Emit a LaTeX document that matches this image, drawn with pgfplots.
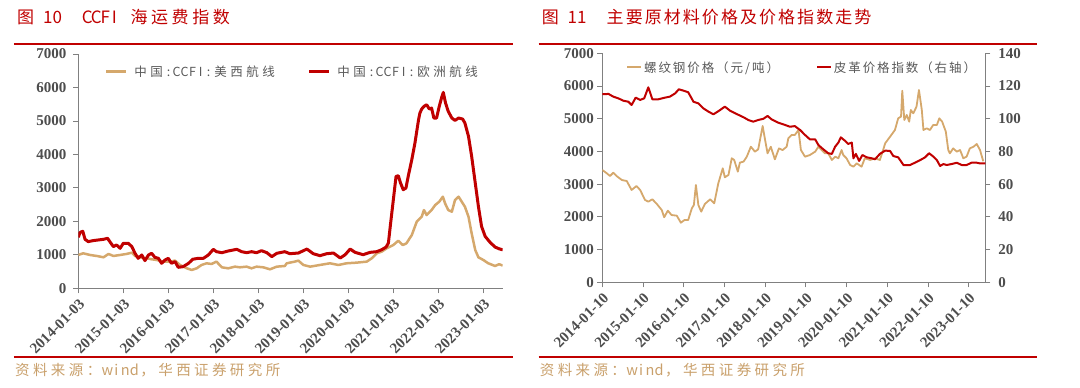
\documentclass[border=0pt]{standalone}
\usepackage{pgfplots}
\pgfplotsset{compat=1.18}
\usepackage{fontspec}
\setmainfont{Liberation Serif}
\newfontfamily\cjk{Noto Sans CJK SC}
\definecolor{cred}{HTML}{C00000}
\definecolor{ctan}{HTML}{D5A86C}
\definecolor{csrc}{HTML}{C9A06B}
\definecolor{cgray}{HTML}{4D4D4D}
\definecolor{clegend}{HTML}{595959}
\definecolor{caxis}{HTML}{808080}
\makeatletter
\newcommand\spread[2]{\@tfor\sp@c:=#2\do{\ifnum\expandafter`\sp@c>255 \makebox[#1]{\sp@c}\else\makebox[\dimexpr#1/2\relax]{\sp@c}\fi}}
\makeatother
\pgfplotsset{
  mystyle/.style={
    scale only axis,
    axis line style={caxis, line width=0.8pt},
    tick style={caxis, line width=0.8pt},
    tick align=outside, major tick length=5pt,
    xtick={2014,2015,...,2023},
    tick label style={font=\bfseries\fontsize{15}{15}\selectfont, color=cgray},
    x tick label style={rotate=45, anchor=north east},
    /pgf/number format/1000 sep={},
    /pgf/number format/assume math mode=true,
  }
}
\begin{document}
\begin{tikzpicture}[x=1pt,y=1pt]
\path[use as bounding box] (0,0) rectangle (1080,-388);
% titles
\begin{scope}[every node/.style={anchor=west, inner sep=0pt, text=cred, font=\cjk\fontsize{17}{17}\selectfont}]
\node at (17,-17.5) {图};
\node at (43,-17.5) {10};
\node at (82.6,-17.5) {\spread{18pt}{CCFI}};
\node at (128.5,-17.5) {\spread{20.6pt}{海运费指数}};
\node at (541.7,-17.5) {图};
\node at (567.5,-17.5) {11};
\node at (605.5,-17.5) {\spread{19.05pt}{主要原材料价格及价格指数走势}};
\end{scope}
\draw[cred, line width=2pt] (13.8,-44) -- (513,-44);
\draw[cred, line width=2pt] (538.5,-44) -- (1037,-44);
\draw[cred, line width=2pt] (13.8,-357) -- (513,-357);
\draw[cred, line width=2pt] (538.5,-357) -- (1037,-357);
\begin{scope}[every node/.style={anchor=west, inner sep=0pt, text=csrc, font=\cjk\fontsize{14.5}{14.5}\selectfont}]
\node at (13.3,-370) {\spread{17.9pt}{资料来源：wind，华西证券研究所}};
\node at (538,-370) {\spread{17.9pt}{资料来源：wind，华西证券研究所}};
\end{scope}

% ---------- left chart ----------
\begin{axis}[mystyle,
  at={(78.3pt,-288.3pt)}, anchor=south west,
  width=424.4pt, height=234.3pt,
  xmin=2014, xmax=2023.43, ymin=0, ymax=7000,
  ytick={0,1000,...,7000},
  y tick label style={xshift=-3.5pt},
  axis x line*=bottom, axis y line*=left,
  xticklabels={2014-01-03,2015-01-03,2016-01-03,2017-01-03,2018-01-03,2019-01-03,2020-01-03,2021-01-03,2022-01-03,2023-01-03},
  legend style={at={(0.0629,0.9244)}, anchor=west, draw=none, fill=none,
    inner sep=0pt, font=\cjk\fontsize{12.5}{12.5}\selectfont, text=clegend,
    nodes={inner sep=0pt},
    /tikz/every odd column/.append style={column sep=5.4pt},
    /tikz/every even column/.append style={column sep=31pt}},
  legend columns=2,
  legend image code/.code={\draw[#1, line cap=butt] (0pt,0pt) -- (19.6pt,0pt);},
]
\addplot[ctan, line width=2.5pt, line join=round] coordinates {
(2014.00,996)(2014.11,1046)(2014.26,996)(2014.41,966)(2014.56,926)(2014.67,1026)(2014.78,966)(2014.93,996)(2015.07,1026)(2015.19,1064)(2015.26,966)(2015.37,926)(2015.52,896)(2015.63,867)(2015.74,847)(2015.89,797)(2016.04,797)(2016.15,827)(2016.26,697)(2016.41,597)(2016.52,548)(2016.63,597)(2016.74,697)(2016.85,747)(2016.96,727)(2017.07,797)(2017.19,627)(2017.33,597)(2017.48,647)(2017.59,627)(2017.74,647)(2017.85,597)(2017.96,647)(2018.11,627)(2018.26,567)(2018.41,647)(2018.59,667)(2018.63,747)(2018.81,797)(2018.89,827)(2019.00,697)(2019.15,647)(2019.37,697)(2019.59,747)(2019.78,697)(2019.96,747)(2020.19,767)(2020.41,797)(2020.52,896)(2020.63,1044)(2020.74,1094)(2020.85,1193)(2021.00,1293)(2021.11,1422)(2021.21,1293)(2021.29,1342)(2021.41,1591)(2021.52,1990)(2021.63,2139)(2021.68,2338)(2021.74,2189)(2021.85,2338)(2021.93,2488)(2022.02,2587)(2022.10,2737)(2022.15,2537)(2022.22,2338)(2022.30,2288)(2022.37,2637)(2022.45,2737)(2022.52,2587)(2022.59,2438)(2022.67,2139)(2022.74,1641)(2022.82,1143)(2022.89,926)(2023.00,846)(2023.11,747)(2023.26,667)(2023.35,720)(2023.43,680)
};
\addlegendentry{\spread{16pt}{中国:CCFI:美西航线}}
\addplot[cred, line width=3pt, line join=round] coordinates {
(2014.00,1524)(2014.04,1672)(2014.10,1702)(2014.15,1464)(2014.22,1395)(2014.33,1425)(2014.45,1445)(2014.56,1464)(2014.65,1494)(2014.70,1395)(2014.78,1245)(2014.85,1295)(2014.93,1195)(2015.00,1345)(2015.11,1345)(2015.19,1245)(2015.26,1046)(2015.33,896)(2015.41,996)(2015.48,827)(2015.56,996)(2015.63,1046)(2015.70,926)(2015.78,896)(2015.85,747)(2015.93,847)(2016.00,896)(2016.07,747)(2016.15,797)(2016.22,627)(2016.33,647)(2016.45,747)(2016.54,867)(2016.67,896)(2016.78,896)(2016.89,996)(2017.00,1165)(2017.07,1094)(2017.19,1064)(2017.33,1114)(2017.52,1165)(2017.63,1094)(2017.74,1064)(2017.85,1094)(2017.96,1064)(2018.07,1124)(2018.19,1064)(2018.30,946)(2018.41,1046)(2018.59,1094)(2018.70,1034)(2018.89,1054)(2019.08,1173)(2019.22,1034)(2019.37,975)(2019.52,1034)(2019.67,1054)(2019.82,905)(2019.93,1004)(2020.04,1173)(2020.15,1074)(2020.33,1004)(2020.48,1074)(2020.63,1094)(2020.74,1153)(2020.84,1233)(2020.89,1352)(2020.94,1950)(2021.00,2647)(2021.06,3344)(2021.11,3364)(2021.16,3145)(2021.22,2946)(2021.28,2996)(2021.33,3344)(2021.41,3842)(2021.48,4340)(2021.56,5037)(2021.59,5236)(2021.63,5356)(2021.68,5435)(2021.74,5485)(2021.80,5356)(2021.85,5385)(2021.90,5087)(2021.96,5087)(2022.02,5435)(2022.08,5734)(2022.11,5853)(2022.16,5535)(2022.22,5286)(2022.30,5087)(2022.37,5017)(2022.45,5087)(2022.54,5057)(2022.59,4938)(2022.67,4539)(2022.74,3942)(2022.82,3145)(2022.89,2448)(2022.96,1850)(2023.04,1552)(2023.15,1372)(2023.26,1233)(2023.35,1180)(2023.43,1150)
};
\addlegendentry{\spread{16pt}{中国:CCFI:欧洲航线}}
\end{axis}

% ---------- right chart ----------
\begin{axis}[mystyle,
  at={(602.3pt,-282.3pt)}, anchor=south west,
  width=383pt, height=229pt,
  xmin=2014, xmax=2023.41, ymin=0, ymax=7000,
  ytick={0,1000,...,7000},
  axis x line*=bottom, axis y line*=left,
  xticklabels={2014-01-10,2015-01-10,2016-01-10,2017-01-10,2018-01-10,2019-01-10,2020-01-10,2021-01-10,2022-01-10,2023-01-10},
]
\addplot[ctan, line width=1.8pt, line join=round] coordinates {
(2014.00,3433)(2014.11,3332)(2014.19,3250)(2014.27,3350)(2014.35,3250)(2014.48,3127)(2014.60,3097)(2014.72,2822)(2014.84,2944)(2014.93,2822)(2015.05,2516)(2015.13,2465)(2015.23,2537)(2015.34,2394)(2015.46,2210)(2015.52,1987)(2015.61,2190)(2015.70,2057)(2015.83,2037)(2015.93,1822)(2016.02,1904)(2016.11,1904)(2016.20,2262)(2016.25,2364)(2016.30,2974)(2016.36,2364)(2016.43,2160)(2016.52,2394)(2016.65,2537)(2016.75,2414)(2016.85,3026)(2016.96,3485)(2017.01,3210)(2017.10,3281)(2017.18,3791)(2017.24,3740)(2017.33,3383)(2017.38,3659)(2017.47,3689)(2017.55,3840)(2017.65,4145)(2017.75,3994)(2017.83,4064)(2017.94,4778)(2018.00,4350)(2018.06,3942)(2018.14,4145)(2018.24,3758)(2018.34,4094)(2018.43,4043)(2018.53,4145)(2018.57,4402)(2018.65,4503)(2018.73,4503)(2018.82,4656)(2018.88,4044)(2018.98,3840)(2019.10,3891)(2019.23,3994)(2019.31,4145)(2019.39,4044)(2019.47,3942)(2019.55,3942)(2019.64,3740)(2019.72,3840)(2019.80,3791)(2019.88,4044)(2019.92,3891)(2020.00,3791)(2020.09,3586)(2020.17,3535)(2020.25,3637)(2020.37,3535)(2020.45,3791)(2020.58,3740)(2020.70,3791)(2020.82,3740)(2020.90,4044)(2020.95,4249)(2021.07,4451)(2021.19,4656)(2021.27,5013)(2021.34,5066)(2021.37,5857)(2021.42,4961)(2021.48,5115)(2021.54,4910)(2021.58,5267)(2021.64,5165)(2021.72,5369)(2021.78,5879)(2021.85,5267)(2021.89,4656)(2021.97,4707)(2022.05,4656)(2022.13,4809)(2022.22,4809)(2022.28,5013)(2022.35,4910)(2022.44,4605)(2022.50,4044)(2022.54,3942)(2022.62,4094)(2022.71,3994)(2022.79,4044)(2022.87,3791)(2022.95,3840)(2023.03,4094)(2023.12,4145)(2023.20,4227)(2023.28,4044)(2023.36,3700)
};
\end{axis}
\begin{axis}[mystyle,
  at={(602.3pt,-282.3pt)}, anchor=south west,
  width=383pt, height=229pt,
  xmin=2014, xmax=2023.41, ymin=0, ymax=140,
  ytick={0,20,...,140},
  y tick label style={xshift=4.5pt},
  axis x line=none, axis y line*=right,
  legend style={at={(0.0619,0.938)}, anchor=west, draw=none, fill=none,
    inner sep=0pt, font=\cjk\fontsize{12.5}{12.5}\selectfont, text=clegend,
    nodes={inner sep=0pt},
    /tikz/every odd column/.append style={column sep=1.5pt},
    /tikz/every even column/.append style={column sep=36pt}},
  legend columns=2,
  legend image code/.code={\draw[#1, line cap=butt] (0pt,0pt) -- (13.5pt,0pt);},
]
\addlegendimage{ctan, line width=2pt}
\addlegendentry{\spread{14.4pt}{螺纹钢价格（元/吨）}}
\addplot[cred, line width=2pt, line join=round] coordinates {
(2014.00,115.0)(2014.07,115.0)(2014.15,115.2)(2014.27,113.5)(2014.39,112.5)(2014.52,111.0)(2014.64,110.4)(2014.72,108.4)(2014.82,112.9)(2014.93,111.5)(2015.03,112.5)(2015.13,119.2)(2015.23,111.9)(2015.38,111.9)(2015.54,112.9)(2015.66,113.5)(2015.79,115.5)(2015.88,118.0)(2015.99,117.2)(2016.11,116.2)(2016.24,110.4)(2016.36,109.4)(2016.48,106.4)(2016.61,104.3)(2016.73,102.7)(2016.87,104.9)(2017.01,107.4)(2017.14,104.9)(2017.30,102.9)(2017.47,100.9)(2017.59,99.2)(2017.71,98.2)(2017.83,99.2)(2017.96,100.0)(2018.06,101.7)(2018.16,99.6)(2018.32,97.6)(2018.49,96.2)(2018.61,95.1)(2018.73,95.5)(2018.86,93.1)(2018.98,90.1)(2019.10,87.4)(2019.23,87.4)(2019.31,83.9)(2019.43,81.3)(2019.55,78.9)(2019.64,78.5)(2019.72,82.9)(2019.80,85.4)(2019.86,88.6)(2019.96,86.6)(2020.04,84.6)(2020.13,85.4)(2020.17,75.8)(2020.23,78.5)(2020.31,74.2)(2020.39,77.8)(2020.50,76.4)(2020.62,75.8)(2020.70,75.2)(2020.82,78.5)(2020.95,80.5)(2021.07,80.3)(2021.15,77.2)(2021.27,76.4)(2021.40,71.7)(2021.56,71.7)(2021.68,73.1)(2021.81,74.7)(2021.93,76.4)(2022.03,78.9)(2022.13,76.9)(2022.22,74.7)(2022.30,71.1)(2022.38,72.3)(2022.46,71.7)(2022.58,72.3)(2022.71,73.1)(2022.83,71.7)(2022.95,71.7)(2023.07,73.1)(2023.20,73.1)(2023.28,72.7)(2023.41,72.7)
};
\addlegendentry{\spread{14.4pt}{皮革价格指数（右轴）}}
\end{axis}
\end{tikzpicture}
\end{document}
